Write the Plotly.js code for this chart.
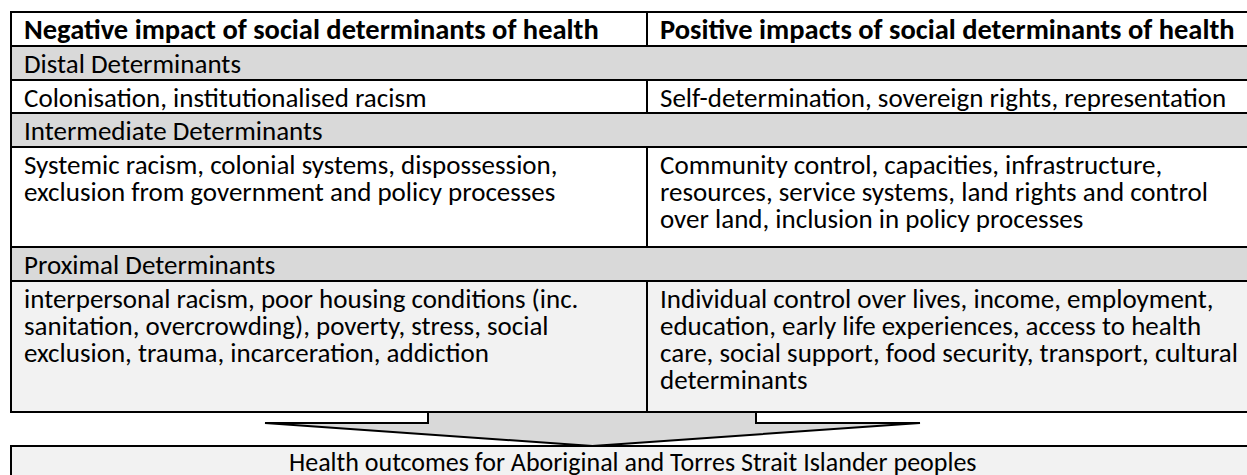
<!DOCTYPE html>
<html>
<head>
<meta charset="utf-8">
<script src="https://cdn.plot.ly/plotly-3.0.1.min.js"></script>
<style>html,body{margin:0;padding:0;background:#fff;}#chart{width:1247px;height:475px;}</style>
</head>
<body>
<div id="chart"></div>
<script>
// ---- data ----
const headers = ["Negative impact of social determinants of health", "Positive impacts of social determinants of health"];
const levels = ["Distal Determinants", "Intermediate Determinants", "Proximal Determinants"];
const negativeImpacts = [
  ["Colonisation, institutionalised racism"],
  ["Systemic racism, colonial systems, dispossession,", "exclusion from government and policy processes"],
  ["interpersonal racism, poor housing conditions (inc.", "sanitation, overcrowding), poverty, stress, social", "exclusion, trauma, incarceration, addiction"]
];
const positiveImpacts = [
  ["Self-determination, sovereign rights, representation"],
  ["Community control, capacities, infrastructure,", "resources, service systems, land rights and control", "over land, inclusion in policy processes"],
  ["Individual control over lives, income, employment,", "education, early life experiences, access to health", "care, social support, food security, transport, cultural", "determinants"]
];
const outcome = "Health outcomes for Aboriginal and Torres Strait Islander peoples";

// ---- layout constants ----
const W = 1247, H = 475;
const FONT = "Carlito, Calibri, 'Open Sans', sans-serif";
const FS = 27;
const FSB = 28.5;
const xL = 11, xMid = 647, xR = 1275;
const padX = 11;
const lineH = 27;
const yEdges = [12, 46, 80, 113, 147, 247, 281, 412];
const contentFill = ["#ffffff", "#ffffff", "#f2f2f2"];
const sectionFill = "#d9d9d9";

const shapes = [];
const annotations = [];

function rect(x0, y0, x1, y1, fill) {
  shapes.push({type: "rect", xref: "x", yref: "y", x0, y0, x1, y1,
    fillcolor: fill, line: {color: "#000", width: 2}, layer: "below"});
}
function txt(x, y, s, opts) {
  annotations.push(Object.assign({xref: "x", yref: "y", x, y, text: s, showarrow: false,
    xanchor: "left", yanchor: "middle", font: {family: FONT, size: FS, color: "#000"}}, opts || {}));
}

// header row
rect(xL, yEdges[0], xMid, yEdges[1], "#ffffff");
rect(xMid, yEdges[0], xR, yEdges[1], "#ffffff");
const boldFont = {family: FONT, size: FSB, color: "#000"};
txt(xL + padX, yEdges[0] + 17, "<b>" + headers[0] + "</b>", {font: boldFont});
txt(xMid + padX, yEdges[0] + 17, "<b>" + headers[1] + "</b>", {font: boldFont});

for (let i = 0; i < levels.length; i++) {
  const ys = yEdges[1 + 2 * i], ym = yEdges[2 + 2 * i], ye = yEdges[3 + 2 * i];
  rect(xL, ys, xR, ym, sectionFill);
  txt(xL + padX, ys + 17, levels[i]);
  rect(xL, ym, xMid, ye, contentFill[i]);
  rect(xMid, ym, xR, ye, contentFill[i]);
  negativeImpacts[i].forEach((ln, k) => txt(xL + padX, ym + 17 + k * lineH, ln));
  positiveImpacts[i].forEach((ln, k) => txt(xMid + padX, ym + 17 + k * lineH, ln));
}

// arrow
const yTop = yEdges[7], yHead = 423, yTip = 446;
const sL = 428, sR = 756, hL = 265, hR = 920, cX = (hL + hR) / 2;
shapes.push({type: "path", xref: "x", yref: "y",
  path: `M ${sL},${yTop} L ${sL},${yHead} L ${hL},${yHead} L ${cX},${yTip} L ${hR},${yHead} L ${sR},${yHead} L ${sR},${yTop} Z`,
  fillcolor: sectionFill, line: {color: "#000", width: 2}, layer: "above"});

// outcome box
rect(xL, yTip, xR, 500, "#f2f2f2");
txt(633, yTip + 16, outcome, {xanchor: "center", font: {family: FONT, size: 26, color: "#000"}});

const layout = {
  width: W, height: H,
  margin: {l: 0, r: 0, t: 0, b: 0},
  paper_bgcolor: "#fff", plot_bgcolor: "#fff",
  xaxis: {range: [0, W], visible: false, fixedrange: true},
  yaxis: {range: [H, 0], visible: false, fixedrange: true},
  shapes, annotations, showlegend: false
};
Plotly.newPlot("chart", [{x: [0], y: [0], mode: "markers", marker: {opacity: 0}, hoverinfo: "skip"}], layout, {displayModeBar: false, staticPlot: true});
</script>
</body>
</html>
